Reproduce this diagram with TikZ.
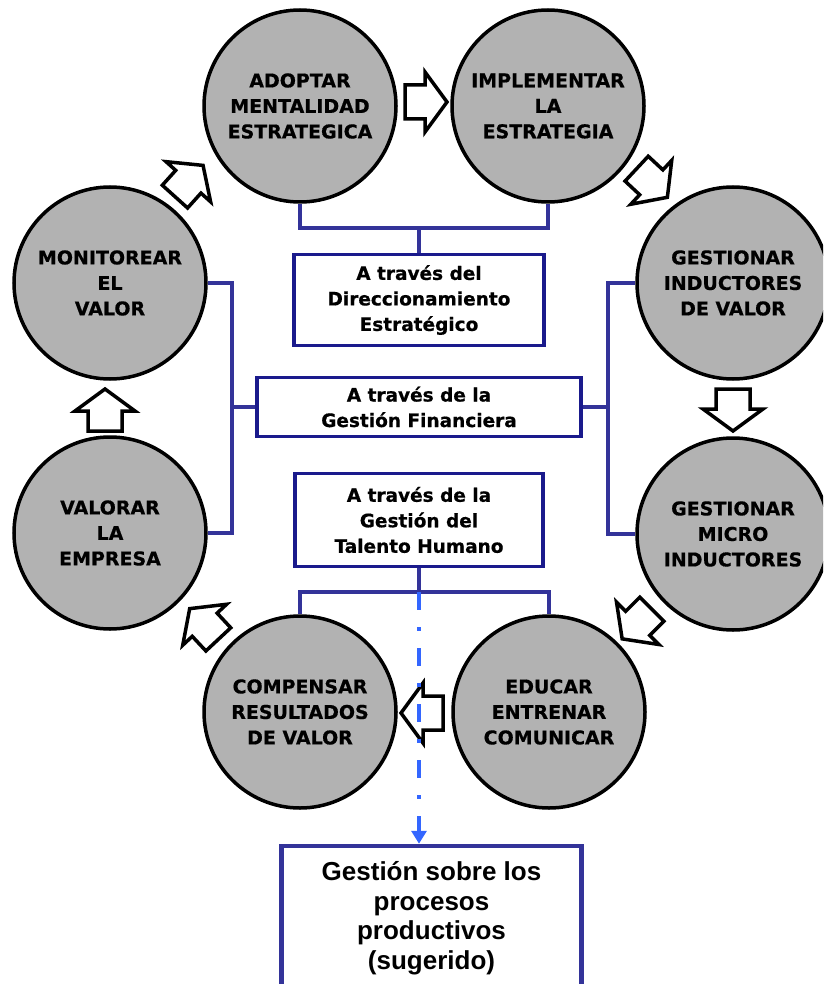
\documentclass[tikz,border=0pt]{standalone}
\usepackage{fontspec}
\newfontfamily\verdanalike{DejaVu Sans}[BoldFeatures={FakeBold=0.6}]
\newfontfamily\arialike{Liberation Sans}
\usetikzlibrary{arrows.meta}
\definecolor{circgray}{RGB}{178,178,178}
\definecolor{boxnavy}{RGB}{26,26,140}
\definecolor{linkblue}{RGB}{51,51,153}
\definecolor{dashblue}{RGB}{51,102,255}
\begin{document}
\begin{tikzpicture}[x=1pt,y=-1pt,
  stage/.style={circle, draw=black, line width=3.5pt, fill=circgray, minimum size=192pt, inner sep=0pt, align=center, font=\verdanalike\bfseries\fontsize{19}{25.5}\selectfont},
  viabox/.style={draw=boxnavy, line width=3.8pt, fill=white, align=center, inner sep=0pt, font=\verdanalike\bfseries\fontsize{18.5}{25.5}\selectfont},
  gestbox/.style={draw=linkblue, line width=4.5pt, fill=white, align=center, inner sep=0pt, font=\arialike\bfseries\fontsize{26}{29.5}\selectfont},
  link/.style={draw=linkblue, line width=3.8pt},
  blockarr/.pic={\draw[line width=3.5pt, fill=white, line join=miter] (-21,-17)--(-1,-17)--(-1,-30)--(21,0)--(-1,30)--(-1,17)--(-21,17)--cycle;}
]
\useasboundingbox (0,0) rectangle (823,984);
\clip (0,0) rectangle (823,984);

% stages
\node[stage] (adoptar) at (300,106) {ADOPTAR\\MENTALIDAD\\ESTRATEGICA};
\node[stage] (implementar) at (548,106) {IMPLEMENTAR\\LA\\ESTRATEGIA};
\node[stage] (inductores) at (733,283) {GESTIONAR\\INDUCTORES\\DE VALOR};
\node[stage] (micro) at (733,534) {GESTIONAR\\MICRO\\INDUCTORES};
\node[stage] (educar) at (549,712) {EDUCAR\\ENTRENAR\\COMUNICAR};
\node[stage] (compensar) at (300,712) {COMPENSAR\\RESULTADOS\\DE VALOR};
\node[stage] (valorar) at (110,533) {VALORAR\\LA\\EMPRESA};
\node[stage] (monitorear) at (110,283) {MONITOREAR\\EL\\VALOR};

% boxes
\node[viabox, minimum width=250pt, minimum height=91pt] (direcc) at (419,300) {A través del\\Direccionamiento\\Estratégico};
\node[viabox, minimum width=324pt, minimum height=59pt] (finan) at (419,407) {A través de la\\Gestión Financiera};
\node[viabox, minimum width=248pt, minimum height=93pt] (talento) at (419,520) {A través de la\\Gestión del\\Talento Humano};
\node[gestbox, minimum width=300pt, minimum height=144pt] (gestion) at (431.5,918) {Gestión sobre los\\procesos\\productivos\\(sugerido)};

% bar coordinates
\coordinate (topbar) at (0,228);
\coordinate (lbar) at (232,0);
\coordinate (rbar) at (608,0);
\coordinate (botbar) at (0,592);

% connectors
\draw[link] (adoptar.south) |- (implementar.south |- topbar) -- (implementar.south);
\draw[link] (direcc.north) -- (direcc.north |- topbar);
\draw[link] (monitorear.east) -| (lbar |- valorar.east) -- (valorar.east);
\draw[link] (finan.west) -- (finan.west -| lbar);
\draw[link] (inductores.west) -| (rbar |- micro.west) -- (micro.west);
\draw[link] (finan.east) -- (finan.east -| rbar);
\draw[link] (compensar.north) |- (educar.north |- botbar) -- (educar.north);
\draw[link] (talento.south) -- (talento.south |- botbar);

% block arrows
\pic[rotate=0] at (426,102) {blockarr};
\pic[rotate=-43] at (652,183) {blockarr};
\pic[rotate=-90] at (733,410) {blockarr};
\pic[rotate=-135] at (637,624) {blockarr};
\pic[rotate=180] at (422,713) {blockarr};
\pic[rotate=133] at (204,624) {blockarr};
\pic[rotate=90] at (105,410) {blockarr};
\pic[rotate=48] at (189,181) {blockarr};

% dash-dot arrow
\draw[dashblue, line width=4.5pt, dash pattern=on 18pt off 17pt on 4pt off 17pt, -{Triangle[width=15pt,length=13pt]}] (talento.south |- botbar) -- (talento.south |- gestion.north);
\end{tikzpicture}
\end{document}
